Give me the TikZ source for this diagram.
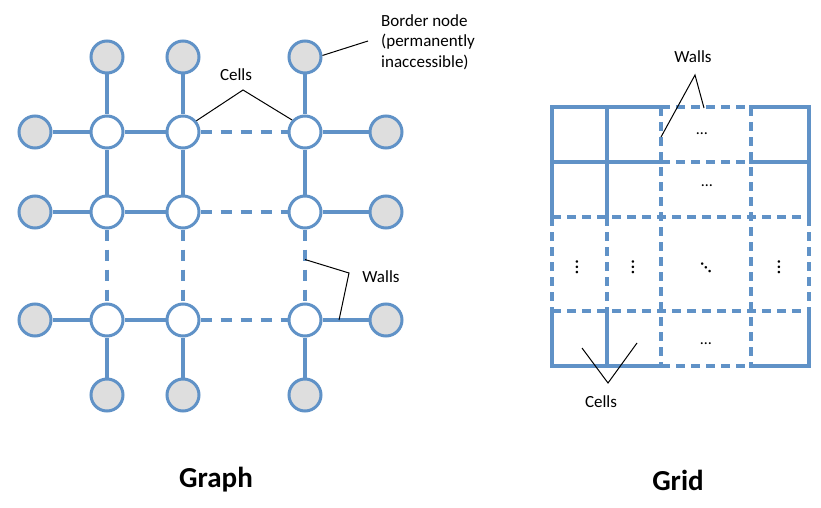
\documentclass[tikz,border=0pt]{standalone}
\usepackage{fontspec}
\setmainfont{Carlito}
\usetikzlibrary{calc}
\definecolor{wallblue}{RGB}{96,146,199}
\definecolor{bfill}{RGB}{222,222,222}
\begin{document}
\begin{tikzpicture}[x=1pt,y=-1pt,
  cell/.style={circle,draw=wallblue,line width=3pt,fill=white,minimum size=32pt,inner sep=0pt},
  border/.style={cell,fill=bfill},
  edge/.style={draw=wallblue,line width=3.5pt},
  wallline/.style={edge,dash pattern=on 11pt off 9pt},
  gline/.style={draw=wallblue,line width=3.5pt,line join=miter,line cap=rect},
  gdash/.style={draw=wallblue,line width=3.5pt,dash pattern=on 9pt off 6pt},
  lead/.style={draw=black,line width=1pt},
  lbl/.style={font=\fontsize{17}{20.5}\selectfont,inner sep=0pt},
  dotlbl/.style={font=\fontsize{16}{16}\selectfont,inner sep=0pt},
  vdotlbl/.style={font=\fontsize{21}{21}\selectfont,inner sep=0pt},
  title/.style={font=\fontsize{29}{32}\selectfont\bfseries,inner sep=0pt}]
\useasboundingbox (0,0) rectangle (821,508);

% ---------- Graph ----------
\node[cell] (c11) at (107,132) {};
\node[cell] (c12) at (183,132) {};
\node[cell] (c13) at (305,132) {};
\node[cell] (c21) at (107,212) {};
\node[cell] (c22) at (183,212) {};
\node[cell] (c23) at (305,212) {};
\node[cell] (c31) at (107,320) {};
\node[cell] (c32) at (183,320) {};
\node[cell] (c33) at (305,320) {};
\node[border] (t1) at (107,57) {};
\node[border] (t2) at (183,57) {};
\node[border] (t3) at (305,57) {};
\node[border] (l1) at (35,132) {};
\node[border] (l2) at (35,212) {};
\node[border] (l3) at (35,320) {};
\node[border] (r1) at (386,132) {};
\node[border] (r2) at (386,212) {};
\node[border] (r3) at (386,320) {};
\node[border] (b1) at (107,395) {};
\node[border] (b2) at (183,395) {};
\node[border] (b3) at (305,395) {};

\foreach \i in {1,2,3}{
  \draw[edge] (t\i) -- (c1\i);
  \draw[edge] (c1\i) -- (c2\i);
  \draw[wallline] (c2\i) -- (c3\i);
  \draw[edge] (c3\i) -- (b\i);
  \draw[edge] (l\i) -- (c\i1);
  \draw[edge] (c\i1) -- (c\i2);
  \draw[wallline] (c\i2) -- (c\i3);
  \draw[edge] (c\i3) -- (r\i);
}

\node[lbl] (cellsA) at (236,75) {Cells};
\coordinate (cA) at (243,90);
\draw[lead] (c12.40) -- (cA) -- (c13.137);

\node[lbl,align=left,anchor=north west] (bnode) at (381,14) {Border node\\(permanently\\inaccessible)};
\coordinate (bA) at (368,41);
\draw[lead] (bA) -- (t3.5);

\node[lbl] (wallsA) at (381,277) {Walls};
\coordinate (wA) at (349,273);
\coordinate (w1) at ($(c23)!0.44!(c33)$);
\coordinate (w2) at ($(c33)!0.42!(r3)$);
\draw[lead] (w1) -- (wA) -- (w2);

\node[title] (gtitle) at (216,480) {Graph};

% ---------- Grid ----------
\foreach \x [count=\i] in {552,607,661,751,809}
  \foreach \y [count=\j] in {107,162,217,311,366}
    \coordinate (g\i\j) at (\x,\y);

\draw[gdash] (g31) -- (g41);
\draw[gdash] (g32) -- (g42);
\draw[gdash] (g55) -- (g45);
\draw[gdash] (g35) -- (g45);
\draw[gdash] (g13) -- (g53);
\draw[gdash] (g14) -- (g54);
\draw[gdash] (g13) -- (g14);
\draw[gdash] (g23) -- (g24);
\draw[gdash] (g53) -- (g54);
\draw[gdash] (g31) -- (g35);
\draw[gdash] (g41) -- (g45);

\draw[gline] (g31) -- (g11) -- (g13);
\draw[gline] (g12) -- (g32);
\draw[gline] (g21) -- (g23);
\draw[gline] (g41) -- (g51) -- (g53);
\draw[gline] (g42) -- (g52);
\draw[gline] (g14) -- (g15) -- (g35);
\draw[gline] (g24) -- (g25);
\draw[gline] (g54) -- (g55) -- (g45);

\node[dotlbl] (d1) at (702,134) {…};
\node[dotlbl] (d2) at (707,186) {…};
\node[dotlbl] (d3) at (706,344) {…};
\node[vdotlbl,rotate=90] (v1) at (577,267) {…};
\node[vdotlbl,rotate=90] (v2) at (633,267) {…};
\node[vdotlbl,rotate=90] (v3) at (779,267) {…};
\node[vdotlbl,rotate=-45] (dd) at (706,268) {…};

\node[lbl] (wallsB) at (693,57) {Walls};
\coordinate (wB) at (695,75);
\coordinate (wB1) at (661,137);
\coordinate (wB2) at (704,108);
\draw[lead] (wB1) -- (wB) -- (wB2);

\node[lbl] (cellsB) at (601,402) {Cells};
\coordinate (cB) at (608,383);
\coordinate (cB1) at (582,348);
\coordinate (cB2) at (637,343);
\draw[lead] (cB1) -- (cB) -- (cB2);

\node[title] (rtitle) at (678,480) {Grid};
\end{tikzpicture}
\end{document}
